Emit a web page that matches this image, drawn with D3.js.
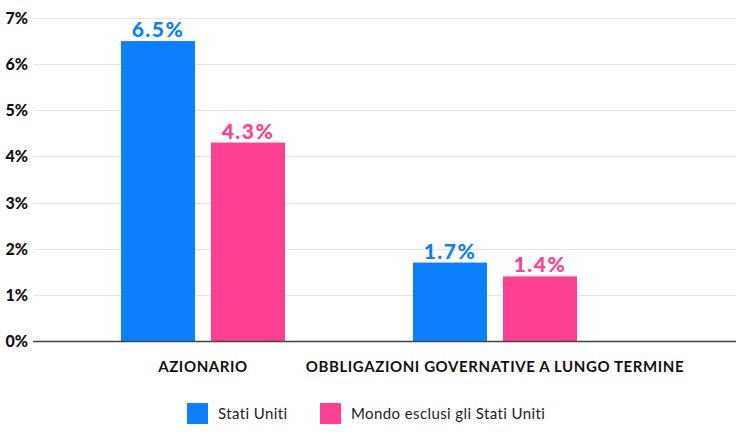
<!DOCTYPE html>
<html>
<head>
<meta charset="utf-8">
<title>chart</title>
<script src="https://cdn.jsdelivr.net/npm/d3@7"></script>
<style>
  body { margin: 0; background: #fff; }
  text { font-family: Lato, "Open Sans", sans-serif; }
</style>
</head>
<body>
<div id="chart"></div>
<script>
var categories = ["AZIONARIO", "OBBLIGAZIONI GOVERNATIVE A LUNGO TERMINE"];
var seriesNames = ["Stati Uniti", "Mondo esclusi gli Stati Uniti"];
var usValues = [6.5, 1.7];
var worldValues = [4.3, 1.4];
var yTicks = [0, 1, 2, 3, 4, 5, 6, 7];
var colors = ["#0A80FF", "#FF3F91"];

var W = 736, H = 432;
var svg = d3.select("#chart").append("svg")
  .attr("width", W).attr("height", H);

var y = d3.scaleLinear().domain([0, 7]).range([341, 18]);
var x0 = d3.scaleBand().domain(categories).range([57, 641]);
var x1 = d3.scaleBand().domain(seriesNames).range([0, 164]).paddingInner(0.178);

// gridlines
svg.append("g").selectAll("line").data(yTicks.slice(1)).enter().append("line")
  .attr("x1", 33).attr("x2", W)
  .attr("y1", function(d) { return Math.round(y(d)) + 0.5; })
  .attr("y2", function(d) { return Math.round(y(d)) + 0.5; })
  .attr("stroke", "#e6e6e6").attr("stroke-width", 1);

// y tick labels
svg.append("g").selectAll("text").data(yTicks).enter().append("text")
  .attr("x", 28).attr("y", function(d) { return y(d) + 6; })
  .attr("text-anchor", "end")
  .attr("font-size", 16).attr("font-weight", 900).attr("fill", "#111")
  .text(function(d) { return d + "%"; });

var rows = categories.map(function(c, i) {
  return { cat: c, vals: [usValues[i], worldValues[i]] };
});

var groups = svg.selectAll(".grp").data(rows).enter().append("g")
  .attr("class", "grp")
  .attr("transform", function(d) {
    return "translate(" + (x0(d.cat) + x0.bandwidth() / 2 - 82) + ",0)";
  });

groups.selectAll("rect").data(function(d) {
  return d.vals.map(function(v, j) { return { name: seriesNames[j], v: v, j: j }; });
}).enter().append("rect")
  .attr("x", function(d) { return x1(d.name); })
  .attr("width", x1.bandwidth())
  .attr("y", function(d) { return y(d.v); })
  .attr("height", function(d) { return y(0) - y(d.v); })
  .attr("fill", function(d) { return colors[d.j]; });

groups.selectAll(".val").data(function(d) {
  return d.vals.map(function(v, j) { return { name: seriesNames[j], v: v, j: j }; });
}).enter().append("text")
  .attr("class", "val")
  .attr("x", function(d) { return x1(d.name) + x1.bandwidth() / 2; })
  .attr("y", function(d) { return y(d.v) - 4; })
  .attr("text-anchor", "middle")
  .attr("font-size", 21).attr("font-weight", 900)
  .attr("letter-spacing", 1.5)
  .attr("fill", function(d) { return colors[d.j]; })
  .text(function(d) { return d.v.toFixed(1) + "%"; });

// baseline
svg.append("line")
  .attr("x1", 33).attr("x2", W)
  .attr("y1", y(0) + 0.5).attr("y2", y(0) + 0.5)
  .attr("stroke", "#444").attr("stroke-width", 1.5);

// category labels
svg.append("g").selectAll("text").data(categories).enter().append("text")
  .attr("x", function(d) { return x0(d) + x0.bandwidth() / 2; })
  .attr("y", 372)
  .attr("text-anchor", "middle")
  .attr("font-size", 15).attr("font-weight", 700).attr("fill", "#111")
  .attr("letter-spacing", 0.6)
  .text(function(d) { return d; });

// legend
var legendX = [187, 320];
var legend = svg.append("g").selectAll("g").data(seriesNames).enter().append("g")
  .attr("transform", function(d, i) { return "translate(" + legendX[i] + ",403)"; });
legend.append("rect")
  .attr("width", 21).attr("height", 21)
  .attr("fill", function(d, i) { return colors[i]; });
legend.append("text")
  .attr("x", 31).attr("y", 16)
  .attr("font-size", 15).attr("fill", "#222")
  .attr("letter-spacing", 0.4)
  .text(function(d) { return d; });
</script>
</body>
</html>
